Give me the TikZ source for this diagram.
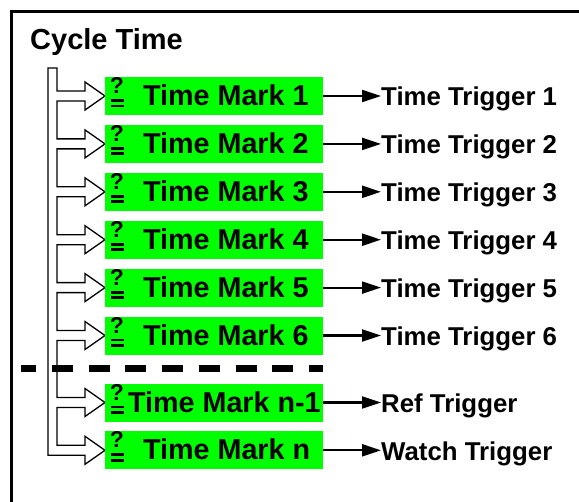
\documentclass[tikz,border=0pt]{standalone}
\usepackage{fontspec}
\setmainfont{Liberation Sans}
\usetikzlibrary{arrows.meta}
\definecolor{markgreen}{RGB}{0,255,0}

\begin{document}
\begin{tikzpicture}[x=1bp,y=-1bp,
  markbox/.style={fill=markgreen, draw=none, minimum width=218bp,
    minimum height=38bp, inner sep=0pt, anchor=west},
  marklabel/.style={inner sep=0pt, anchor=base west,
    font=\fontsize{28.7bp}{30bp}\selectfont\bfseries},
  qmark/.style={inner sep=0pt, anchor=base,
    font=\fontsize{23bp}{24bp}\selectfont\bfseries},
  qbar/.style={line width=2.8bp},
  triglabel/.style={inner sep=0pt, anchor=base west,
    font=\fontsize{25.8bp}{27bp}\selectfont\bfseries},
  trigarrow/.style={line width=2.2bp, -{Triangle[length=19bp 0 0,width=12bp 0 0]}},
  tree/.style={draw=black, fill=white, line width=1.3bp, line join=miter},
  frame/.style={line width=3bp},
  separator/.style={line width=7bp, dash pattern=on 21bp off 15.7bp, dash phase=5.7bp}
]
\useasboundingbox (0,0) rectangle (579,502);
\clip (0,0) rectangle (579,502);

% outer frame (left and top edges)
\draw[frame] (11,510) -- (11,12) -- (590,12);

% title
\node[inner sep=0pt, anchor=base west,
  font=\fontsize{29bp}{31bp}\selectfont\bfseries] (title) at (30,50) {Cycle Time};

% hollow branching trunk that feeds every time mark
\path[tree] (48,68) -- (57,68)
  \foreach \c in {96,143.9,191.8,239.7,287.6,335.5,402.5} {
    -- (57,\c-5) -- (85,\c-5) -- (85,\c-14) -- (105,\c) -- (85,\c+14)
    -- (85,\c+5) -- (57,\c+5)
  }
  -- (57,445.3) -- (85,445.3) -- (85,436.3) -- (105,450.3) -- (85,464.3)
  -- (85,455.3) -- (48,455.3) -- cycle;

% time marks and their triggers
\foreach \i/\c/\tx/\mark/\trig in {
  1/96/143/Time Mark 1/Time Trigger 1,
  2/143.9/143/Time Mark 2/Time Trigger 2,
  3/191.8/143/Time Mark 3/Time Trigger 3,
  4/239.7/143/Time Mark 4/Time Trigger 4,
  5/287.6/143/Time Mark 5/Time Trigger 5,
  6/335.5/143/Time Mark 6/Time Trigger 6,
  7/402.5/128/Time Mark n-1/Ref Trigger,
  8/450.3/143/Time Mark n/Watch Trigger} {
  \node[markbox] (box\i) at (105,\c) {};
  \node[qmark] (q\i) at (117,\c-2.5) {?};
  \draw[qbar] (110.5,\c+4.5) -- (123.5,\c+4.5);
  \draw[qbar] (110.5,\c+10) -- (123.5,\c+10);
  \node[marklabel] (mark\i) at (\tx,\c+9.5) {\mark};
  \node[triglabel] (trig\i) at (381,\c+10) {\trig};
  \draw[trigarrow] (box\i.east) -- (box\i.east -| trig\i.west);
}

% separator between the regular marks and the last two
\draw[separator] (21,368.6) -- (323,368.6);
\end{tikzpicture}
\end{document}
